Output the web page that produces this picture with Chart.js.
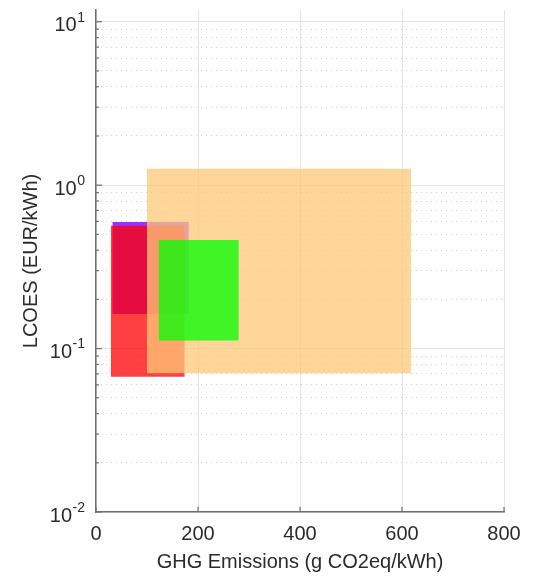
<!DOCTYPE html>
<html>
<head>
<meta charset="utf-8">
<title>LCOES vs GHG</title>
<script src="https://cdn.jsdelivr.net/npm/chart.js@4.4.1/dist/chart.umd.min.js"></script>
<style>
  html, body { margin: 0; padding: 0; background: #fff; }
  #wrap { width: 538px; height: 585px; position: relative; }
</style>
</head>
<body>
<div id="wrap"><canvas id="chart"></canvas></div>
<script>
// Ranges per technology box (drawn bottom to top in this order)
const ghgLow = [32, 29, 100, 123];
const ghgHigh = [182, 174, 618, 280];
const lcoesLow = [0.163, 0.0673, 0.0707, 0.112];
const lcoesHigh = [0.596, 0.564, 1.26, 0.462];
const boxColors = [
    'rgba(128, 0, 255, 0.8)',
    'rgba(255, 0, 0, 0.75)',
    'rgba(255, 200, 120, 0.75)',
    'rgba(0, 255, 0, 0.75)'
];

// Axis ticks
const xTicks = [0, 200, 400, 600, 800];
const yMajor = [0.01, 0.1, 1, 10];
const yMinor = [];
[0.01, 0.1, 1].forEach(d => { for (let k = 2; k <= 9; k++) yMinor.push(+(k * d).toPrecision(2)); });
const yMax = 11.8;

const FONT = "'Liberation Sans', Arial, Helvetica, sans-serif";
const textColor = '#2b2b2b';
const axisColor = '#707070';
const gridColor = '#e3e3e3';
const minorColor = '#d0d0d0';

// each box = top edge filled down to its bottom edge
const datasets = [];
ghgLow.forEach((x0, i) => {
    const order = ghgLow.length - i;
    datasets.push({
        data: [{ x: x0, y: lcoesHigh[i] }, { x: ghgHigh[i], y: lcoesHigh[i] }],
        showLine: true, borderWidth: 0, pointRadius: 0,
        backgroundColor: boxColors[i], fill: '+1', order
    });
    datasets.push({
        data: [{ x: x0, y: lcoesLow[i] }, { x: ghgHigh[i], y: lcoesLow[i] }],
        showLine: true, borderWidth: 0, pointRadius: 0, fill: false, order
    });
});

// inward tick marks + 10^n labels
const axisDecor = {
    id: 'axisDecor',
    afterDraw(chart) {
        const { ctx, chartArea: a, scales: { x, y } } = chart;
        ctx.save();
        ctx.strokeStyle = axisColor;
        ctx.lineWidth = 1.2;
        const seg = (x1, y1, x2, y2) => { ctx.beginPath(); ctx.moveTo(x1, y1); ctx.lineTo(x2, y2); ctx.stroke(); };
        xTicks.forEach(v => { const px = x.getPixelForValue(v); seg(px, a.bottom, px, a.bottom - 5); });
        yMajor.forEach(v => { const py = y.getPixelForValue(v); seg(a.left, py, a.left + 6, py); });
        yMinor.forEach(v => { const py = y.getPixelForValue(v); seg(a.left, py, a.left + 3, py); });

        ctx.fillStyle = textColor;
        ctx.textAlign = 'right';
        ctx.textBaseline = 'middle';
        const right = a.left - 11;
        yMajor.forEach(v => {
            const py = y.getPixelForValue(v);
            const exp = String(Math.round(Math.log10(v)));
            ctx.font = '14px ' + FONT;
            const ew = ctx.measureText(exp).width;
            ctx.fillText(exp, right, py - 4);
            ctx.font = '20px ' + FONT;
            ctx.fillText('10', right - ew - 0.5, py + 4);
        });
        ctx.restore();
    }
};

new Chart(document.getElementById('chart'), {
    type: 'scatter',
    data: { datasets },
    plugins: [axisDecor],
    options: {
        responsive: true,
        maintainAspectRatio: false,
        animation: false,
        layout: { padding: { top: 10, right: 34, left: 0, bottom: 0 } },
        plugins: { legend: { display: false }, tooltip: { enabled: false } },
        scales: {
            x: {
                type: 'linear', min: 0, max: 800,
                afterBuildTicks: s => { s.ticks = xTicks.map(v => ({ value: v })); },
                afterFit: s => { s.height = 73; },
                grid: { color: gridColor, lineWidth: 1, drawTicks: false },
                border: { color: axisColor, width: 1.5 },
                ticks: { color: textColor, font: { family: FONT, size: 20 }, padding: 10 },
                title: {
                    display: true, text: 'GHG Emissions (g CO2eq/kWh)', color: textColor,
                    font: { family: FONT, size: 20 }, padding: { top: 2, bottom: 11 }
                }
            },
            y: {
                type: 'logarithmic', position: 'left', min: 0.01, max: yMax,
                afterBuildTicks: s => { s.ticks = yMajor.map(v => ({ value: v, major: true })); },
                afterFit: s => { s.width = 96; },
                grid: { color: gridColor, lineWidth: 1, drawTicks: false },
                border: { color: axisColor, width: 1.5 },
                ticks: { display: false },
                title: {
                    display: true, text: 'LCOES (EUR/kWh)', color: textColor,
                    font: { family: FONT, size: 20 }, padding: { top: 19, bottom: 0 }
                }
            },
            yMinor: {
                type: 'logarithmic', position: 'left', min: 0.01, max: yMax,
                afterBuildTicks: s => { s.ticks = yMinor.map(v => ({ value: v })); },
                afterFit: s => { s.width = 0; },
                grid: { color: minorColor, lineWidth: 1, drawTicks: false },
                border: { display: false, dash: [1, 4] },
                ticks: { display: false }
            }
        }
    }
});
</script>
</body>
</html>
